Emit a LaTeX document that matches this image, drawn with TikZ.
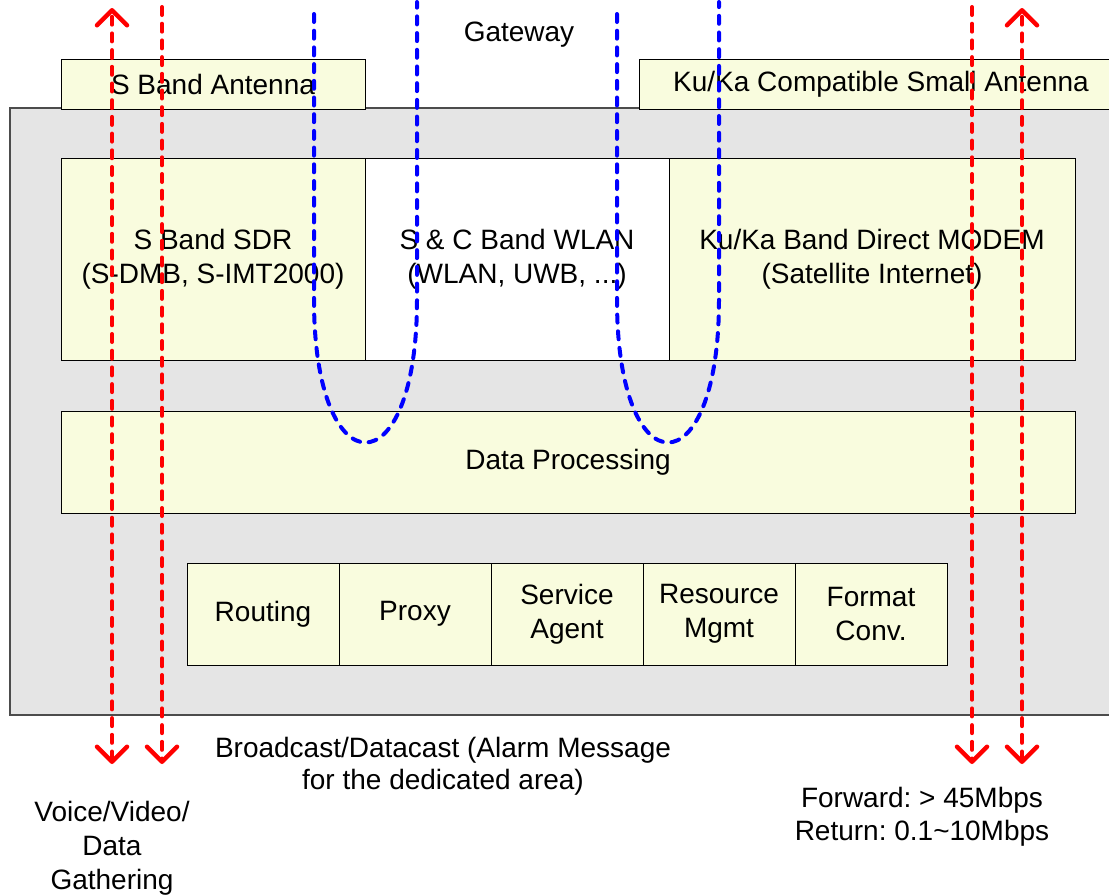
\documentclass[tikz,border=0pt]{standalone}
\usepackage{fontspec}
\setmainfont{Liberation Sans}
\usetikzlibrary{positioning,arrows.meta}

\definecolor{paleyellow}{RGB}{249,252,222}
\definecolor{panelgray}{RGB}{229,229,229}
\tikzset{
  yelbox/.style={draw=black, line width=1pt, fill=paleyellow, inner sep=0pt, outer sep=0pt, align=center},
  graybox/.style={draw=black!70, line width=1.2pt, fill=panelgray},
  redflow/.style={red, line width=4pt, line cap=round, dash pattern=on 8pt off 8.7pt},
  blueflow/.style={blue, line width=4pt, line cap=round, dash pattern=on 8pt off 8.7pt},
  barb/.tip={Straight Barb[length=15pt,width=30pt,line width=4.5pt,round]},
}

\begin{document}
\begin{tikzpicture}[x=1pt, y=-1pt, every node/.style={font=\fontsize{28}{34}\selectfont\frenchspacing}]
	\useasboundingbox (0,0) rectangle (1109,895);
	\fill[white] (0,0) rectangle (1109,895);
	% terminal body
	\draw[graybox] (10,108) rectangle (1112,715);
	\node[yelbox, minimum width=304pt, minimum height=50pt] (santenna) at (213,84) {S Band Antenna};
	\node[yelbox, minimum width=484pt, minimum height=50pt] (kuantenna) at (881,84) {Ku/Ka Compatible Small Antenna};
	\node (gateway) at (519,35) {Gateway};
	% radio modules
	\node[yelbox, minimum width=304pt, minimum height=202pt] (sdr) at (213,259) {S Band SDR\\(S-DMB, S-IMT2000)};
	\node[yelbox, fill=white, minimum width=304pt, minimum height=202pt, right=0pt of sdr] (wlan) {S \& C Band WLAN\\(WLAN, UWB, ...)};
	\node[yelbox, minimum width=406pt, minimum height=202pt, right=0pt of wlan] (modem) {Ku/Ka Band Direct MODEM\\(Satellite Internet)};
	\node[yelbox, minimum width=1014pt, minimum height=102pt] (dataproc) at (568,462) {Data Processing};
	% service functions
	\node[yelbox, minimum width=152pt, minimum height=102pt] (routing) at (263,614) {Routing};
	\node[yelbox, minimum width=152pt, minimum height=102pt, right=0pt of routing] (proxy) {Proxy};
	\node[yelbox, minimum width=152pt, minimum height=102pt, right=0pt of proxy] (agent) {Service\\Agent};
	\node[yelbox, minimum width=152pt, minimum height=102pt, right=0pt of agent] (resmgmt) {Resource\\Mgmt};
	\node[yelbox, minimum width=152pt, minimum height=102pt, right=0pt of resmgmt] (formconv) {Format\\Conv.};
	% captions
	\node[align=center, font=\fontsize{28}{32}\selectfont] (broadcast) at (443,766) {Broadcast/Datacast (Alarm Message\\for the dedicated area)};
	\node[align=center] (gathering) at (112,848) {Voice/Video/\\Data\\Gathering};
	\node[align=center, font=\fontsize{28}{33}\selectfont\frenchspacing] (rates) at (922,817) {Forward: > 45Mbps\\Return: 0.1\textasciitilde10Mbps};
	% flow end points
	\coordinate (s1top) at (112,8);   \coordinate (s1bot) at (112,764);
	\coordinate (s2top) at (162,7);   \coordinate (s2bot) at (162,764);
	\coordinate (k1top) at (972,7);   \coordinate (k1bot) at (972,764);
	\coordinate (k2top) at (1022,8);  \coordinate (k2bot) at (1022,764);
	\coordinate (w1in) at (314,14);   \coordinate (w1out) at (417,2);
	\coordinate (w2in) at (617,14);   \coordinate (w2out) at (719,2);
	% red flows
	\draw[redflow, {barb}-{barb}] (s1bot) -- (s1top);
	\draw[redflow, -{barb}] (s2top) -- (s2bot);
	\draw[redflow, -{barb}] (k1top) -- (k1bot);
	\draw[redflow, {barb}-{barb}] (k2bot) -- (k2top);
	% blue loops through the WLAN
	\draw[blueflow] (w1in) -- (314,300) .. controls (314,490) and (417,490) .. (417,300) -- (w1out);
	\draw[blueflow] (w2in) -- (617,300) .. controls (617,490) and (719,490) .. (719,300) -- (w2out);
\end{tikzpicture}
\end{document}
